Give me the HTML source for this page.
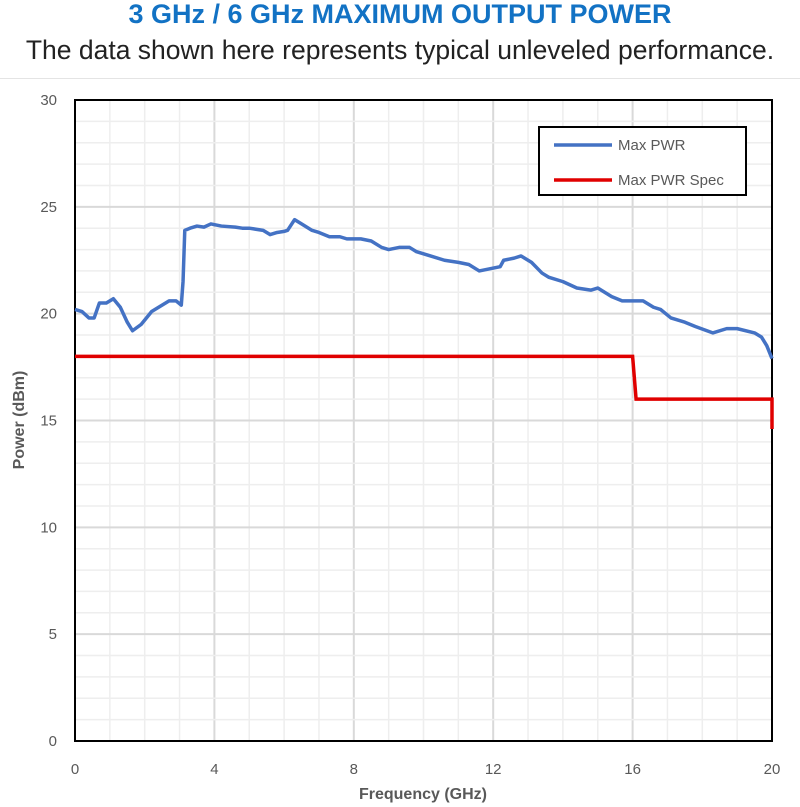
<!DOCTYPE html>
<html><head><meta charset="utf-8"><style>
body{margin:0;width:800px;height:807px;background:#fff;font-family:"Liberation Sans",sans-serif;overflow:hidden}
#t{position:absolute;top:-1px;width:800px;text-align:center;font-weight:bold;font-size:27px;color:#1272c4;line-height:30px;white-space:nowrap}
#s{position:absolute;top:35px;width:800px;text-align:center;font-size:26.5px;color:#222;line-height:30px;white-space:nowrap}
#hr{position:absolute;top:78px;left:0;width:800px;height:1px;background:#e4e4e4}
svg{position:absolute;top:0;left:0}
</style></head><body>
<div id="t">3 GHz / 6 GHz MAXIMUM OUTPUT POWER</div>
<div id="s">The data shown here represents typical unleveled performance.</div>
<div id="hr"></div>
<svg id="c" width="800" height="807"></svg>
<script>
const freq=[0,0.2,0.4,0.55,0.7,0.9,1.1,1.3,1.5,1.65,1.9,2.2,2.5,2.7,2.9,3.05,3.1,3.15,3.3,3.5,3.7,3.9,4.2,4.6,4.8,5.0,5.4,5.6,5.8,6.0,6.1,6.3,6.5,6.8,7.0,7.3,7.6,7.8,8.2,8.5,8.8,9.0,9.3,9.6,9.8,10.2,10.6,11.0,11.3,11.6,11.9,12.2,12.3,12.6,12.8,13.1,13.4,13.6,14.0,14.4,14.8,15.0,15.4,15.7,16.0,16.3,16.6,16.8,17.1,17.5,17.8,18.3,18.7,19.0,19.5,19.7,19.85,20];
const power=[20.2,20.1,19.8,19.8,20.5,20.5,20.7,20.3,19.6,19.2,19.5,20.1,20.4,20.6,20.6,20.4,21.5,23.9,24.0,24.1,24.05,24.2,24.1,24.05,24.0,24.0,23.9,23.7,23.8,23.85,23.9,24.4,24.2,23.9,23.8,23.6,23.6,23.5,23.5,23.4,23.1,23.0,23.1,23.1,22.9,22.7,22.5,22.4,22.3,22.0,22.1,22.2,22.5,22.6,22.7,22.4,21.9,21.7,21.5,21.2,21.1,21.2,20.8,20.6,20.6,20.6,20.3,20.2,19.8,19.6,19.4,19.1,19.3,19.3,19.1,18.9,18.5,17.9];
const specFreq=[0,16,16.1,20,20];
const specPower=[18,18,16,16,14.6];
const xTicks=[0,4,8,12,16,20];
const yTicks=[0,5,10,15,20,25,30];
const X0=75,X1=772,Y0=741,Y1=100;
const xs=v=>X0+(v/20)*(X1-X0), ys=v=>Y0-(v/30)*(Y0-Y1);
const svg=document.getElementById('c'),NS='http://www.w3.org/2000/svg';
function mk(t,a,p){const e=document.createElementNS(NS,t);for(const k in a)e.setAttribute(k,a[k]);(p||svg).appendChild(e);return e;}
for(let g=0;g<=20;g++){const l=mk('line',{x1:xs(g),x2:xs(g),y1:Y1,y2:Y0,stroke:g%4?'#eeeeee':'#d9d9d9','stroke-width':g%4?1.5:2});
}
for(let g=0;g<=30;g++){const l=mk('line',{x1:X0,x2:X1,y1:ys(g),y2:ys(g),stroke:g%5?'#eeeeee':'#d9d9d9','stroke-width':g%5?1.5:2});
}
const fr=mk('rect',{x:X0,y:Y1,width:X1-X0,height:Y0-Y1,fill:'none',stroke:'#000','stroke-width':2});

xTicks.forEach(v=>{const t=mk('text',{x:xs(v),y:774,'text-anchor':'middle','font-size':15,fill:'#595959'});t.textContent=v;
});
yTicks.forEach(v=>{const t=mk('text',{x:57,y:ys(v)+5,'text-anchor':'end','font-size':15,fill:'#595959'});t.textContent=v;
});
const xt=mk('text',{x:423,y:799,'text-anchor':'middle','font-size':16,'font-weight':'bold',fill:'#595959'});xt.textContent='Frequency (GHz)';

const yt=mk('text',{x:0,y:0,transform:'translate(24,420) rotate(-90)','text-anchor':'middle','font-size':16,'font-weight':'bold',fill:'#595959'});yt.textContent='Power (dBm)';

const sp=mk('polyline',{points:specFreq.map((f,i)=>xs(f)+','+ys(specPower[i])).join(' '),fill:'none',stroke:'#e00000','stroke-width':3.5});

const mp=mk('polyline',{points:freq.map((f,i)=>xs(f)+','+ys(power[i])).join(' '),fill:'none',stroke:'#4472c4','stroke-width':3.5,'stroke-linejoin':'round'});

const lg=mk('g',{});
mk('rect',{x:539,y:127,width:207,height:68,fill:'#fff',stroke:'#000','stroke-width':2},lg);
[['Max PWR','#4472c4',145],['Max PWR Spec','#e00000',180]].forEach(([n,c,y])=>{
const e=mk('g',{},lg);
mk('line',{x1:554,x2:612,y1:y,y2:y,stroke:c,'stroke-width':3.5},e);
const t=mk('text',{x:618,y:y+5,'font-size':15,fill:'#595959'},e);t.textContent=n;});
</script>
</body></html>
